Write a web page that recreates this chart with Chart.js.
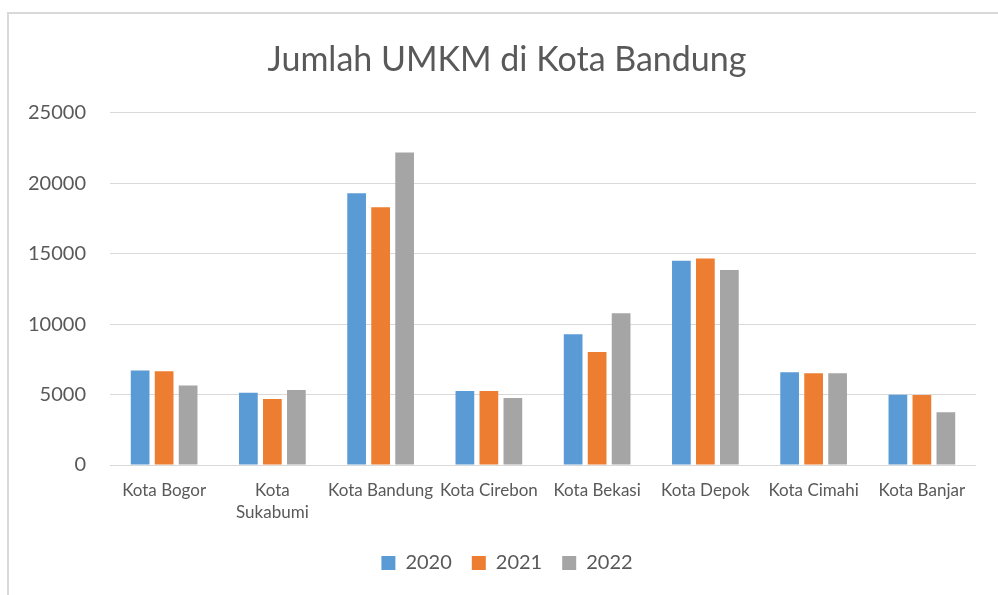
<!DOCTYPE html>
<html>
<head>
<meta charset="utf-8">
<script src="https://cdn.jsdelivr.net/npm/chart.js@4.4.0/dist/chart.umd.min.js"></script>
<style>
  html, body { margin: 0; padding: 0; background: #fff; overflow: hidden; }
  #wrap { position: relative; width: 998px; height: 595px; }
  #frame { position: absolute; left: 7px; top: 12px; width: 1100px; height: 700px; border: 2px solid #d9d9d9; box-sizing: border-box; }
  canvas { position: absolute; left: 0; top: 0; }
</style>
</head>
<body>
<div id="wrap">
  <div id="frame"></div>
  <canvas id="c" width="998" height="595"></canvas>
</div>
<script>
const categories = ['Kota Bogor', ['Kota', 'Sukabumi'], 'Kota Bandung', 'Kota Cirebon', 'Kota Bekasi', 'Kota Depok', 'Kota Cimahi', 'Kota Banjar'];
const seriesNames = ['2020', '2021', '2022'];
const values2020 = [6700, 5120, 19290, 5260, 9280, 14490, 6590, 4980];
const values2021 = [6660, 4680, 18290, 5260, 8020, 14660, 6520, 4970];
const values2022 = [5640, 5330, 22190, 4750, 10770, 13850, 6520, 3750];
const colors = ['#5b9bd5', '#ed7d31', '#a5a5a5'];
const yTicks = [0, 5000, 10000, 15000, 20000, 25000];

const FONT = 'Lato, "Open Sans", sans-serif';
const TEXT = '#595959';

new Chart(document.getElementById('c'), {
  type: 'bar',
  data: {
    labels: categories,
    datasets: [values2020, values2021, values2022].map((v, i) => ({
      label: seriesNames[i],
      data: v,
      backgroundColor: colors[i],
      borderWidth: 0,
      categoryPercentage: 0.665,
      barPercentage: 0.78
    }))
  },
  options: {
    responsive: false,
    animation: false,
    layout: { padding: { left: 16, right: 0, top: 0, bottom: 12 } },
    plugins: {
      title: {
        display: true,
        text: 'Jumlah UMKM di Kota Bandung',
        color: TEXT,
        font: { family: FONT, size: 34, weight: 'normal', lineHeight: 1.2 },
        padding: { top: 40, bottom: 32 }
      },
      legend: {
        position: 'bottom',
        labels: {
          color: TEXT,
          font: { family: FONT, size: 20 },
          boxWidth: 14,
          boxHeight: 14,
          padding: 20
        }
      },
      tooltip: { enabled: false }
    },
    scales: {
      x: {
        grid: { display: false, drawTicks: false },
        border: { display: false },
        ticks: {
          color: TEXT,
          font: { family: FONT, size: 17, lineHeight: 1.3 },
          padding: 14,
          maxRotation: 0,
          autoSkip: false
        },
        afterFit: s => { s.height = 68; }
      },
      y: {
        min: 0,
        max: 25000,
        afterBuildTicks: s => { s.ticks = yTicks.map(v => ({ value: v })); },
        grid: { color: '#d9d9d9', lineWidth: 1, drawTicks: false },
        border: { display: false },
        ticks: {
          color: TEXT,
          font: { family: FONT, size: 20 },
          padding: 24,
          callback: v => String(v)
        },
        afterFit: s => { s.width = 94; }
      },
      yr: {
        position: 'right',
        display: true,
        grid: { display: false, drawTicks: false },
        border: { display: false },
        ticks: { display: false },
        afterFit: s => { s.width = 22; }
      }
    }
  }
});
</script>
</body>
</html>
